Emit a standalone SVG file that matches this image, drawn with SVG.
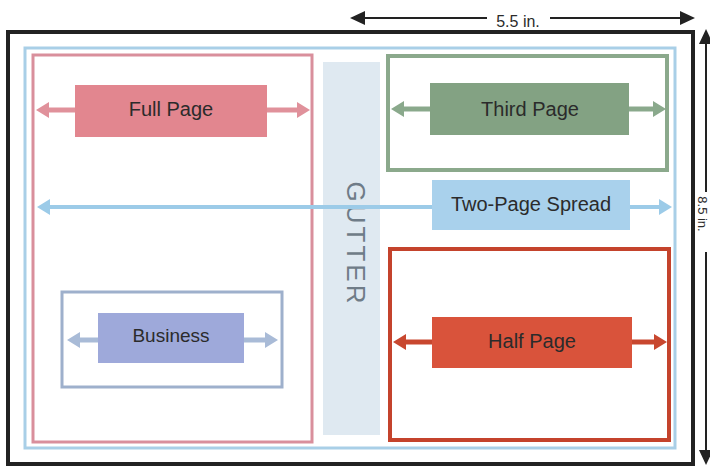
<svg xmlns="http://www.w3.org/2000/svg" width="710" height="468" viewBox="0 0 710 468">
<style>
.lbl{font-family:"Liberation Sans",Arial,sans-serif;font-size:20px;fill:#2b2b2b;text-anchor:middle}
.dim{font-family:"Liberation Sans",Arial,sans-serif;font-size:16px;fill:#2b2b2b;text-anchor:middle}
.frame{fill:none}
</style>
<defs>
<marker id="mPink" markerUnits="userSpaceOnUse" markerWidth="13" markerHeight="16" refX="0" refY="8" orient="auto-start-reverse"><path d="M0,0 L13,8 L0,16 z" fill="#e0919b"/></marker>
<marker id="mGreen" markerUnits="userSpaceOnUse" markerWidth="13" markerHeight="16" refX="0" refY="8" orient="auto-start-reverse"><path d="M0,0 L13,8 L0,16 z" fill="#8aa98c"/></marker>
<marker id="mBlue" markerUnits="userSpaceOnUse" markerWidth="13" markerHeight="16" refX="0" refY="8" orient="auto-start-reverse"><path d="M0,0 L13,8 L0,16 z" fill="#9ccbe8"/></marker>
<marker id="mRed" markerUnits="userSpaceOnUse" markerWidth="13" markerHeight="16" refX="0" refY="8" orient="auto-start-reverse"><path d="M0,0 L13,8 L0,16 z" fill="#c8472f"/></marker>
<marker id="mCard" markerUnits="userSpaceOnUse" markerWidth="13" markerHeight="16" refX="0" refY="8" orient="auto-start-reverse"><path d="M0,0 L13,8 L0,16 z" fill="#a9bbd7"/></marker>
<marker id="mDim" markerUnits="userSpaceOnUse" markerWidth="15" markerHeight="14" refX="0" refY="7" orient="auto-start-reverse"><path d="M0,0 L15,7 L0,14 z" fill="#222"/></marker>
</defs>

<g id="sheet">
<rect x="8" y="32" width="685" height="432" class="frame" stroke="#222" stroke-width="4"/>
<rect x="25" y="48" width="650" height="400" class="frame" stroke="#a9cfe7" stroke-width="3"/>
</g>

<g id="gutter">
<rect x="323" y="62" width="57" height="373" fill="#dfe9f1"/>
<text transform="translate(347,244) rotate(90)" font-family="Liberation Sans, Arial, sans-serif" font-size="26" letter-spacing="3" fill="#6f7c88" text-anchor="middle">GUTTER</text>
</g>

<g id="full-page">
<rect x="33" y="55" width="279" height="387" class="frame" stroke="#d98f9c" stroke-width="3"/>
<rect x="75" y="85" width="192" height="52" fill="#e2868f"/>
<text x="171" y="116" class="lbl">Full Page</text>
</g>

<g id="third-page">
<rect x="388" y="56" width="279" height="114" class="frame" stroke="#8ba98c" stroke-width="4"/>
<rect x="430" y="83" width="199" height="52" fill="#83a283"/>
<text x="530" y="116" class="lbl">Third Page</text>
</g>

<g id="half-page">
<rect x="390" y="249" width="279" height="191" class="frame" stroke="#c4432c" stroke-width="4"/>
<rect x="432" y="317" width="200" height="51" fill="#d9533b"/>
<text x="532" y="348" class="lbl">Half Page</text>
</g>

<g id="business-card">
<rect x="62" y="292" width="220" height="95" class="frame" stroke="#9eb0cc" stroke-width="3"/>
<rect x="98" y="313" width="146" height="50" fill="#9ea9da"/>
<text x="171" y="342" class="lbl" style="font-size:19px">Business</text>
</g>

<g id="connectors" stroke-width="5" fill="none">
<line x1="75" y1="110" x2="49" y2="110" stroke="#e0919b" marker-end="url(#mPink)"/>
<line x1="267" y1="110" x2="297" y2="110" stroke="#e0919b" marker-end="url(#mPink)"/>
<line x1="430" y1="109" x2="404" y2="109" stroke="#8aa98c" marker-end="url(#mGreen)"/>
<line x1="629" y1="109" x2="653" y2="109" stroke="#8aa98c" marker-end="url(#mGreen)"/>
<line x1="432" y1="207" x2="50" y2="207" stroke="#9ccbe8" stroke-width="4" marker-end="url(#mBlue)"/>
<line x1="630" y1="207" x2="659" y2="207" stroke="#9ccbe8" stroke-width="4" marker-end="url(#mBlue)"/>
<line x1="432" y1="342" x2="406" y2="342" stroke="#c8472f" marker-end="url(#mRed)"/>
<line x1="632" y1="342" x2="654" y2="342" stroke="#c8472f" marker-end="url(#mRed)"/>
<line x1="98" y1="340" x2="80" y2="340" stroke="#a9bbd7" marker-end="url(#mCard)"/>
<line x1="244" y1="340" x2="265" y2="340" stroke="#a9bbd7" marker-end="url(#mCard)"/>
</g>

<g id="two-page-spread">
<rect x="432" y="180" width="198" height="50" fill="#a9d1ec"/>
<text x="531" y="211" class="lbl">Two-Page Spread</text>
</g>

<g id="dimensions" stroke="#222" stroke-width="2" fill="none">
<line x1="487" y1="18" x2="365" y2="18" marker-end="url(#mDim)"/>
<line x1="550" y1="18" x2="680" y2="18" marker-end="url(#mDim)"/>
<line x1="706" y1="192" x2="706" y2="44" marker-end="url(#mDim)"/>
<line x1="706" y1="252" x2="706" y2="450" marker-end="url(#mDim)"/>
</g>
<text x="518" y="27" class="dim">5.5 in.</text>
<text transform="translate(698,214) rotate(90)" class="dim" style="font-size:13px">8.5 in.</text>
</svg>
